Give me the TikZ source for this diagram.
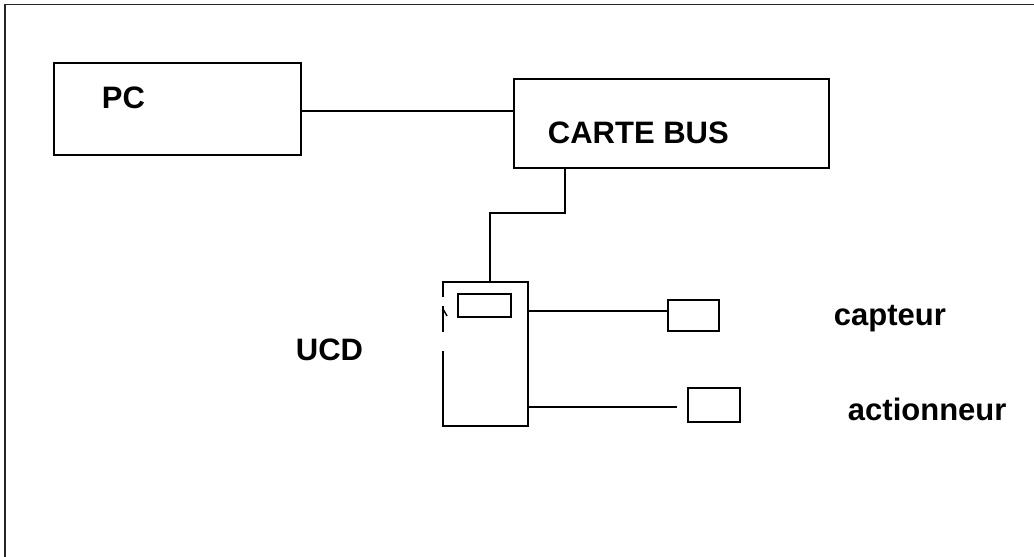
\documentclass[tikz,border=0pt]{standalone}
\usepackage{fontspec}
\setmainfont{Liberation Sans}
\usepackage{tikz}
\usetikzlibrary{positioning, calc}

\begin{document}
\begin{tikzpicture}[x=1pt, y=-1pt, line width=1.9pt,
    box/.style={draw, rectangle, inner sep=0pt},
    lbl/.style={anchor=base west, inner sep=0pt, font=\fontsize{31}{36}\selectfont\bfseries}]
        \useasboundingbox (0,0) rectangle (1034,557);

        % frame
        \draw[black!85] (5,557) -- (5,4.5) -- (1034,4.5);

        \node [box, minimum width=247pt, minimum height=92pt] (pc) at (177.5,109) {};
        \node [box, minimum width=315pt, minimum height=89pt] (carte) at (671.5,123.5) {};
        \node [minimum width=83pt, minimum height=142pt, inner sep=0pt] (ucd) at (485.5,354) {};
        \node [box, minimum width=53pt, minimum height=23pt] (slot) at (484.5,305.5) {};
        \node [box, minimum width=51pt, minimum height=31pt] (capt) at (693.5,315.5) {};
        \node [box, minimum width=52pt, minimum height=34pt] (act) at (714,405) {};

        \node [lbl] (pctxt) at (101,108) {PC};
        \node [lbl] (cartetxt) at (547,143) {CARTE BUS};
        \node [lbl] (ucdtxt) at (295,360) {UCD};
        \node [lbl] (capttxt) at (833,325) {capteur};
        \node [lbl] (acttxt) at (847,420) {actionneur};

        % UCD outline, left side broken
        \draw ([yshift=-15pt]ucd.north west) -- (ucd.north west) -- (ucd.north east)
            -- (ucd.south east) -- (ucd.south west) -- ([yshift=75pt]ucd.south west);
        \draw ([yshift=-24pt]ucd.north west) -- ([yshift=-50pt]ucd.north west);
        \draw[line width=1.4pt] ([yshift=-27pt]ucd.north west) -- ([xshift=4pt,yshift=-34pt]ucd.north west);

        % links
        \coordinate (bend) at (565,213);
        \draw ([yshift=-2pt]pc.east) -- ([yshift=-2pt]pc.east -| carte.west);
        \draw (carte.south -| bend) -- (bend) -| ([xshift=4.5pt]ucd.north);
        \draw ([yshift=4.5pt]capt.west -| ucd.east) -- ([yshift=4.5pt]capt.west);
        \draw ([yshift=-2pt]act.west -| ucd.east) -- ([xshift=-10pt,yshift=-2pt]act.west);
    \end{tikzpicture}
\end{document}
